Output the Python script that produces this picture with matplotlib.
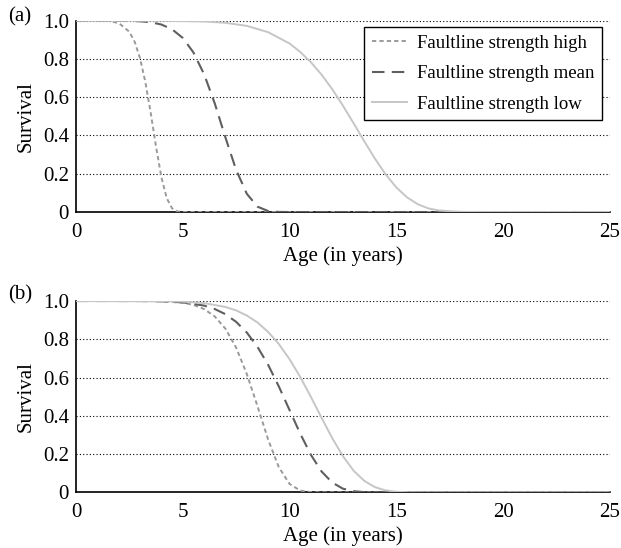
import matplotlib.pyplot as plt

# (a) survival curves
age_a_high = [0, 1, 1.5, 2, 2.5, 2.75, 3, 3.25, 3.5, 3.75, 4, 4.25, 4.5, 4.75, 5, 5.5, 25]
surv_a_high = [1, 1, 0.999, 0.988, 0.942, 0.889, 0.803, 0.678, 0.517, 0.340, 0.181, 0.072, 0.019, 0.003, 0.0003, 0, 0]

age_a_mean = [0, 2, 3, 3.5, 4, 4.5, 5, 5.5, 6, 6.5, 7, 7.5, 8, 8.5, 9, 9.5, 10, 25]
surv_a_mean = [1, 0.9999, 0.997, 0.992, 0.980, 0.955, 0.910, 0.834, 0.720, 0.567, 0.389, 0.220, 0.095, 0.028, 0.005, 0.0006, 0, 0]

age_a_low = [0, 4, 6, 7, 8, 9, 10, 10.5, 11, 11.5, 12, 12.5, 13, 13.5, 14, 14.5, 15, 15.5, 16, 16.5, 17, 18, 19, 25]
surv_a_low = [1, 0.9997, 0.996, 0.989, 0.973, 0.940, 0.881, 0.837, 0.783, 0.718, 0.642, 0.556, 0.464, 0.370, 0.279,
              0.197, 0.129, 0.077, 0.041, 0.019, 0.008, 0.0008, 0, 0]

# (b)
age_b_high = [0, 3, 4, 5, 5.5, 6, 6.5, 7, 7.5, 8, 8.5, 9, 9.5, 10, 10.5, 11, 11.5, 25]
surv_b_high = [1, 0.9998, 0.9986, 0.991, 0.980, 0.958, 0.919, 0.855, 0.756, 0.618, 0.450, 0.275, 0.131, 0.044, 0.009, 0.001, 0, 0]

age_b_mean = [0, 3, 4, 5, 6, 6.5, 7, 7.5, 8, 8.5, 9, 9.5, 10, 10.5, 11, 11.5, 12, 12.5, 13, 13.5, 14, 25]
surv_b_mean = [1, 0.9999, 0.9985, 0.993, 0.976, 0.958, 0.931, 0.891, 0.835, 0.760, 0.666, 0.553, 0.430, 0.307,
               0.196, 0.109, 0.051, 0.019, 0.006, 0.001, 0, 0]

age_b_low = [0, 4, 5, 6, 7, 7.5, 8, 8.5, 9, 9.5, 10, 10.5, 11, 11.5, 12, 12.5, 13, 13.5, 14, 14.5, 15, 15.5, 16, 25]
surv_b_low = [1, 0.9995, 0.997, 0.989, 0.969, 0.951, 0.924, 0.888, 0.838, 0.775, 0.696, 0.603, 0.499, 0.390, 0.283,
              0.189, 0.113, 0.060, 0.027, 0.010, 0.003, 0.0007, 0, 0]

labels = ['Faultline strength high', 'Faultline strength mean', 'Faultline strength low']
xticks = [0, 5, 10, 15, 20, 25]
yticks = [0, 0.2, 0.4, 0.6, 0.8, 1.0]
ytick_labels = ['0', '0.2', '0.4', '0.6', '0.8', '1.0']

plt.rcParams['font.family'] = ['Liberation Serif', 'DejaVu Serif']
plt.rcParams['font.size'] = 15


def draw(ax, series):
    for y in yticks[1:]:
        ax.axhline(y, color='black', linestyle=(0, (1, 2)), linewidth=0.8, zorder=1)
    styles = [
        dict(color='#9a9a9a', linestyle=(0, (2.2, 1.6)), linewidth=1.4),
        dict(color='#5f5f5f', linestyle=(0, (6, 3.5)), linewidth=1.5),
        dict(color='#c6c6c6', linestyle='-', linewidth=1.4),
    ]
    for (x, y), st, lab in zip(series, styles, labels):
        ax.plot(x, y, label=lab, zorder=3, **st)
    ax.set_xlim(0, 25)
    ax.set_ylim(0, 1.0)
    ax.set_xticks(xticks)
    ax.set_yticks(yticks)
    ax.set_yticklabels(ytick_labels)
    ax.tick_params(axis='y', length=0, pad=5, labelsize=15)
    ax.tick_params(axis='x', length=0, pad=8, labelsize=15)
    for s in ['top', 'right']:
        ax.spines[s].set_visible(False)
    ax.spines['left'].set_linewidth(1.2)
    ax.spines['bottom'].set_linewidth(1.2)
    ax.set_xlabel('Age (in years)', fontsize=15, labelpad=3)
    ax.set_ylabel('Survival', fontsize=15, labelpad=5)


fig = plt.figure(figsize=(6.21, 5.48), dpi=100)
ax1 = fig.add_axes([0.1224, 0.6131, 0.8596, 0.3491])
ax2 = fig.add_axes([0.1224, 0.1016, 0.8596, 0.3491])

draw(ax1, [(age_a_high, surv_a_high), (age_a_mean, surv_a_mean), (age_a_low, surv_a_low)])
draw(ax2, [(age_b_high, surv_b_high), (age_b_mean, surv_b_mean), (age_b_low, surv_b_low)])

leg = ax1.legend(loc='upper right', bbox_to_anchor=(0.985, 0.967), borderaxespad=0, frameon=True,
                 fancybox=False, edgecolor='black', framealpha=1, fontsize=13.5, handlelength=1.9,
                 handletextpad=0.5, borderpad=0.4, labelspacing=0.72)
leg.get_frame().set_linewidth(1.0)

fig.text(0.013, 0.969, '(a)', fontsize=15, va='center')
fig.text(0.013, 0.462, '(b)', fontsize=15, va='center')

fig.savefig('out.png', dpi=100)
